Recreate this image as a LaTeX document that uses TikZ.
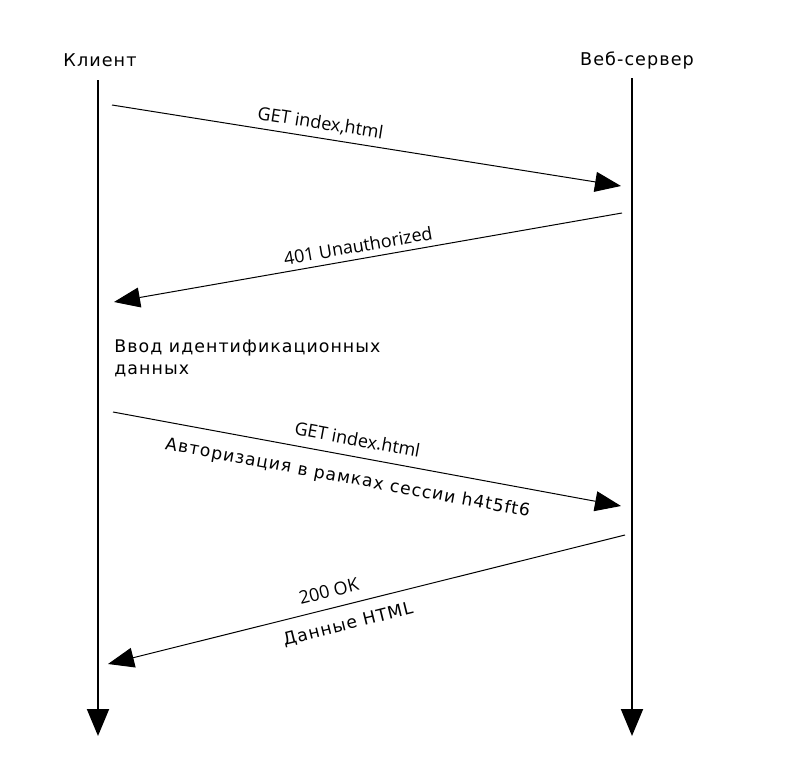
\documentclass[tikz,border=0pt]{standalone}
\usepackage{fontspec}
\usepackage{tikz}
\usetikzlibrary{arrows.meta}
\newfontfamily\dvfont[LetterSpace=6]{DejaVu Sans}
\newfontfamily\osfont{Open Sans}
\tikzset{
    lifeline/.style={line width=1pt, -{Triangle[length=13.5pt, width=11pt]}},
    message/.style={line width=0.5pt, -{Triangle[length=13pt, width=10pt]}},
    actor/.style={font=\dvfont\fontsize{8.8pt}{10pt}\selectfont},
    msglabel/.style={font=\osfont\fontsize{9pt}{10pt}\selectfont, sloped, inner sep=0.5pt},
    notelabel/.style={font=\dvfont\fontsize{8.6pt}{11pt}\selectfont, sloped, inner sep=0.5pt}
}

\begin{document}
\begin{tikzpicture}[x=0.5pt, y=-0.5pt]
    \useasboundingbox (0,0) rectangle (800,782);
    % Actors
    \node[actor] (client) at (100,60) {Клиент};
    \node[actor] (server) at (637,60) {Веб-сервер};
    % Lifelines
    \coordinate (ctop) at (98,80);
    \coordinate (cbot) at (98,736);
    \coordinate (stop) at (632,78);
    \coordinate (sbot) at (632,736);
    \draw[lifeline] (ctop) -- (cbot);
    \draw[lifeline] (stop) -- (sbot);
    % Message ends
    \coordinate (m1a) at (112,105);
    \coordinate (m1b) at (621,186);
    \coordinate (m2a) at (622,213);
    \coordinate (m2b) at (114,302);
    \coordinate (m3a) at (113,412);
    \coordinate (m3b) at (621,506);
    \coordinate (m4a) at (625,535);
    \coordinate (m4b) at (108,664);
    % Request
    \draw[message] (m1a) -- (m1b) node[msglabel, pos=0.405, above=2.5pt] (get1) {GET index,html};
    % Reply 401
    \draw[message] (m2a) -- (m2b) node[msglabel, pos=0.515, above=2.5pt] (unauth) {401 Unauthorized};
    % Credentials input
    \node[font=\dvfont\fontsize{8.7pt}{11pt}\selectfont, align=left, anchor=north west,
        inner sep=0pt] (input) at (114,339) {Ввод идентификационных\\данных};
    % Request with session
    \draw[message] (m3a) -- (m3b)
        node[msglabel, pos=0.475, above=4.5pt] (get2) {GET index.html}
        node[notelabel, pos=0.47, below=6.5pt] (auth) {Авторизация в рамках сессии h4t5ft6};
    % Reply 200
    \draw[message] (m4a) -- (m4b)
        node[msglabel, pos=0.565, above=4.5pt] (ok) {200 OK}
        node[notelabel, pos=0.545, below=5.5pt] (data) {Данные HTML};
\end{tikzpicture}
\end{document}
